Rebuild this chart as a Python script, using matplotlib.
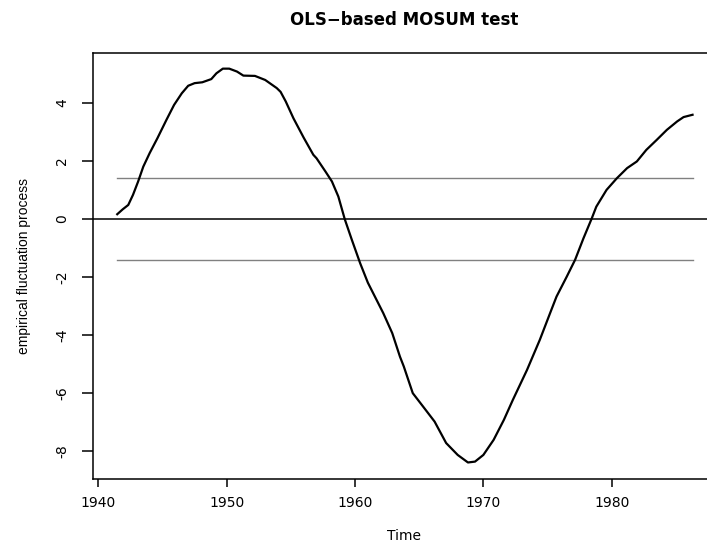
import matplotlib
matplotlib.use('Agg')
import matplotlib.pyplot as plt

# 读图得到的经验波动过程 (OLS-MOSUM)
years = [1941.47, 1941.9, 1942.33, 1942.7, 1943.1, 1943.5, 1944.0, 1944.6, 1945.3, 1945.9,
         1946.5, 1947.0, 1947.5, 1948.1, 1948.8, 1949.2, 1949.7, 1950.2, 1950.8, 1951.3,
         1952.2, 1953.0, 1953.9, 1954.2, 1954.6, 1955.2, 1956.0, 1956.75, 1957.0, 1957.7,
         1958.2, 1958.7, 1959.2, 1959.75, 1960.4, 1961.0, 1962.2, 1962.9, 1963.5, 1963.8,
         1964.5, 1965.3, 1966.2, 1967.1, 1968.0, 1968.8, 1969.35, 1970.0, 1970.8, 1971.6,
         1972.3, 1973.4, 1974.4, 1975.2, 1975.7, 1976.5, 1977.15, 1977.8, 1978.45, 1978.8,
         1979.6, 1980.4, 1981.2, 1981.96, 1982.7, 1983.5, 1984.3, 1985.1, 1985.6, 1986.3]
process = [0.16, 0.33, 0.48, 0.83, 1.29, 1.80, 2.27, 2.78, 3.41, 3.93,
           4.33, 4.59, 4.68, 4.71, 4.82, 5.02, 5.18, 5.18, 5.08, 4.94,
           4.93, 4.79, 4.51, 4.38, 4.05, 3.47, 2.80, 2.21, 2.09, 1.63,
           1.29, 0.77, -0.01, -0.72, -1.53, -2.20, -3.25, -3.94, -4.75, -5.09,
           -6.01, -6.47, -6.99, -7.73, -8.14, -8.40, -8.37, -8.14, -7.62, -6.93,
           -6.24, -5.21, -4.17, -3.25, -2.68, -1.99, -1.41, -0.67, 0.02, 0.42,
           1.00, 1.40, 1.75, 1.98, 2.38, 2.72, 3.07, 3.36, 3.51, 3.59]
boundary = 1.41
x_ticks = [1940, 1950, 1960, 1970, 1980]
y_ticks = [-8, -6, -4, -2, 0, 2, 4]

plt.rcParams['font.family'] = ['DejaVu Sans']
plt.rcParams['axes.unicode_minus'] = False

fig = plt.figure(figsize=(7.07, 5.48), dpi=100)
ax = fig.add_axes([0.1315, 0.1259, 0.880, 0.7774])

# 边界线和零线
ax.plot([years[0], years[-1]], [boundary, boundary], color='#808080', lw=1.0)
ax.plot([years[0], years[-1]], [-boundary, -boundary], color='#808080', lw=1.0)
ax.axhline(0, color='black', lw=1.1)
ax.plot(years, process, color='black', lw=1.6)

ax.set_xlim(1939.58, 1988.06)
ax.set_ylim(-8.97, 5.72)
ax.set_xticks(x_ticks)
ax.set_yticks(y_ticks)
for s in ax.spines.values():
    s.set_linewidth(1.1)

ax.tick_params(axis='x', length=6, width=1.1, pad=6, labelsize=10)
ax.tick_params(axis='y', length=8, width=1.1, pad=9, labelsize=10, labelrotation=90)
for lab in ax.get_yticklabels():
    lab.set_va('center')

ax.set_xlabel('Time', fontsize=10, labelpad=14)
ax.set_ylabel('empirical fluctuation process', fontsize=10, family=['Liberation Sans'], labelpad=17.5)

fig.text(404 / 707, 1 - 20 / 548, 'OLS\u2212based MOSUM test', ha='center', va='center',
         fontsize=12, fontweight='bold')

fig.savefig('out.png', dpi=100)
